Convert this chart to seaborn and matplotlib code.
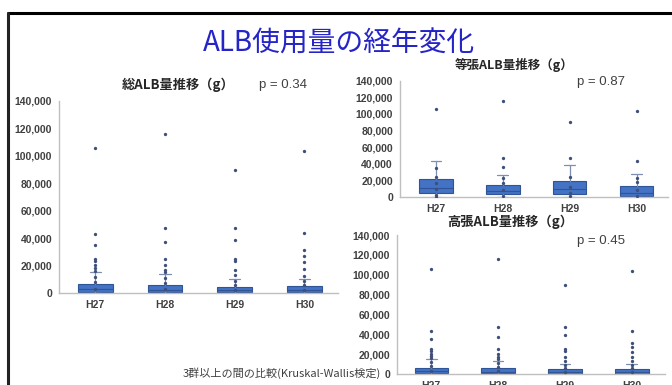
import pandas as pd
import matplotlib.pyplot as plt
import seaborn as sns
from matplotlib.lines import Line2D
from matplotlib.ticker import FuncFormatter

# --- data ---
years = ["H27", "H28", "H29", "H30"]

# 総ALB量 (total)
total_q1 = [600, 500, 400, 400]
total_med = [2600, 2400, 1900, 2000]
total_q3 = [6500, 5800, 4600, 4800]
total_whislo = [0, 0, 0, 0]
total_whishi = [15400, 13500, 10500, 10500]
total_points = {
    "H27": [105800, 43300, 35200, 24900, 23000, 20100, 18400, 16200, 12000, 8000, 3000],
    "H28": [115800, 47300, 37000, 24900, 20100, 16700, 15500, 11000, 7000, 3000],
    "H29": [89700, 47500, 38900, 24900, 23600, 16700, 13000, 9000, 6000, 2000],
    "H30": [103700, 43400, 31200, 26800, 22300, 17200, 12600, 9000, 6000, 2000],
}

# 等張ALB量 (isotonic)
iso_q1 = [4100, 3300, 3300, 1000]
iso_med = [10100, 7300, 8900, 4800]
iso_q3 = [21000, 13700, 18600, 12900]
iso_whislo = [0, 0, 0, 0]
iso_whishi = [42700, 26200, 38300, 27000]
iso_points = {
    "H27": [106000, 35000, 24100, 16000, 9000, 2000, 0],
    "H28": [115900, 47000, 36200, 23000, 16100, 8000, 1000],
    "H29": [90200, 47000, 23400, 12000, 5000, 1000],
    "H30": [103400, 43500, 22200, 18100, 8000, 500],
}

# 高張ALB量 (hypertonic) - same picture as the total on the slide
hyper_q1 = [600, 500, 400, 400]
hyper_med = [2600, 2400, 1900, 2000]
hyper_q3 = [6500, 5800, 4600, 4800]
hyper_whislo = [0, 0, 0, 0]
hyper_whishi = [15400, 13500, 10500, 10500]
hyper_points = {
    "H27": [105800, 43300, 35200, 24900, 23000, 20100, 18400, 16200, 12000, 8000, 3000],
    "H28": [115800, 47300, 37000, 24900, 20100, 16700, 15500, 11000, 7000, 3000],
    "H29": [89700, 47500, 38900, 24900, 23600, 16700, 13000, 9000, 6000, 2000],
    "H30": [103700, 43400, 31200, 26800, 22300, 17200, 12600, 9000, 6000, 2000],
}

BOX_FILL = "#4472C4"
BOX_EDGE = "#2F5597"
WHISK = "#7F8FB0"
DOT = "#3E4F7A"
AXIS = "#BFBFBF"
TICK = "#404040"

sns.set_style("white")
plt.rcParams["font.family"] = ["Noto Sans CJK JP", "DejaVu Sans"]

fig = plt.figure(figsize=(6.72, 3.85), dpi=100)


def draw_panel(rect, q1, med, q3, lo, hi, points, xlim):
    ax = fig.add_axes(rect)
    stats = []
    for i, y in enumerate(years):
        stats.append(dict(med=med[i], q1=q1[i], q3=q3[i],
                          whislo=lo[i], whishi=hi[i], fliers=[]))
    ax.bxp(stats, positions=range(len(years)), widths=0.5, patch_artist=True,
           showfliers=False, capwidths=0.16,
           boxprops=dict(facecolor=BOX_FILL, edgecolor=BOX_EDGE, linewidth=0.8),
           medianprops=dict(color=BOX_EDGE, linewidth=0.8),
           whiskerprops=dict(color=WHISK, linewidth=0.9),
           capprops=dict(color=WHISK, linewidth=0.9))
    df = pd.DataFrame([(y, v) for y in years for v in points[y]],
                      columns=["year", "value"])
    sns.stripplot(data=df, x="year", y="value", order=years, jitter=False,
                  size=2.4, color=DOT, linewidth=0, zorder=4, ax=ax)
    ax.set_xlim(*xlim)
    ax.set_ylim(0, 140000)
    ax.set_yticks(range(0, 140001, 20000))
    ax.yaxis.set_major_formatter(FuncFormatter(lambda v, p: f"{v:,.0f}"))
    ax.set_xticks(range(len(years)))
    ax.set_xticklabels(years)
    ax.set_xlabel("")
    ax.set_ylabel("")
    for s in ["top", "right"]:
        ax.spines[s].set_visible(False)
    for s in ["left", "bottom"]:
        ax.spines[s].set_color(AXIS)
        ax.spines[s].set_linewidth(1)
    ax.tick_params(length=0, pad=5, colors=TICK)
    for lab in ax.get_yticklabels() + ax.get_xticklabels():
        lab.set_fontfamily("Liberation Sans")
        lab.set_fontweight("bold")
        lab.set_fontsize(7.5)
    return ax


draw_panel([0.0878, 0.239, 0.415, 0.4994], total_q1, total_med, total_q3,
           total_whislo, total_whishi, total_points, (-0.52, 3.48))
draw_panel([0.595, 0.489, 0.399, 0.301], iso_q1, iso_med, iso_q3,
           iso_whislo, iso_whishi, iso_points, (-0.54, 3.47))
draw_panel([0.591, 0.0286, 0.399, 0.361], hyper_q1, hyper_med, hyper_q3,
           hyper_whislo, hyper_whishi, hyper_points, (-0.51, 3.5))

# slide frame
fig.add_artist(Line2D([0.0126, 1.0], [0.965, 0.965], color="black", lw=2.2))
fig.add_artist(Line2D([0.0126, 0.0126], [0.0, 0.965], color="#222222", lw=2.2))

# texts
fig.text(0.504, 0.886, "ALB使用量の経年変化", color="#2424C8", fontsize=20,
         ha="center", va="center")
fig.text(0.265, 0.779, "総ALB量推移（g）", fontsize=9.5, fontweight="bold",
         color="#262626", ha="center", va="center")
fig.text(0.385, 0.779, "p = 0.34", fontsize=9.5, color="#404040",
         ha="left", va="center", family="Liberation Sans")
fig.text(0.765, 0.831, "等張ALB量推移（g）", fontsize=9, fontweight="bold",
         color="#262626", ha="center", va="center")
fig.text(0.859, 0.787, "p = 0.87", fontsize=9.5, color="#404040",
         ha="left", va="center", family="Liberation Sans")
fig.text(0.759, 0.423, "高張ALB量推移（g）", fontsize=9.5, fontweight="bold",
         color="#262626", ha="center", va="center")
fig.text(0.859, 0.374, "p = 0.45", fontsize=9.5, color="#404040",
         ha="left", va="center", family="Liberation Sans")
fig.text(0.272, 0.031, "3群以上の間の比較(Kruskal-Wallis検定)", fontsize=8,
         color="#404040", ha="left", va="center")

fig.savefig("out.png", dpi=100)
